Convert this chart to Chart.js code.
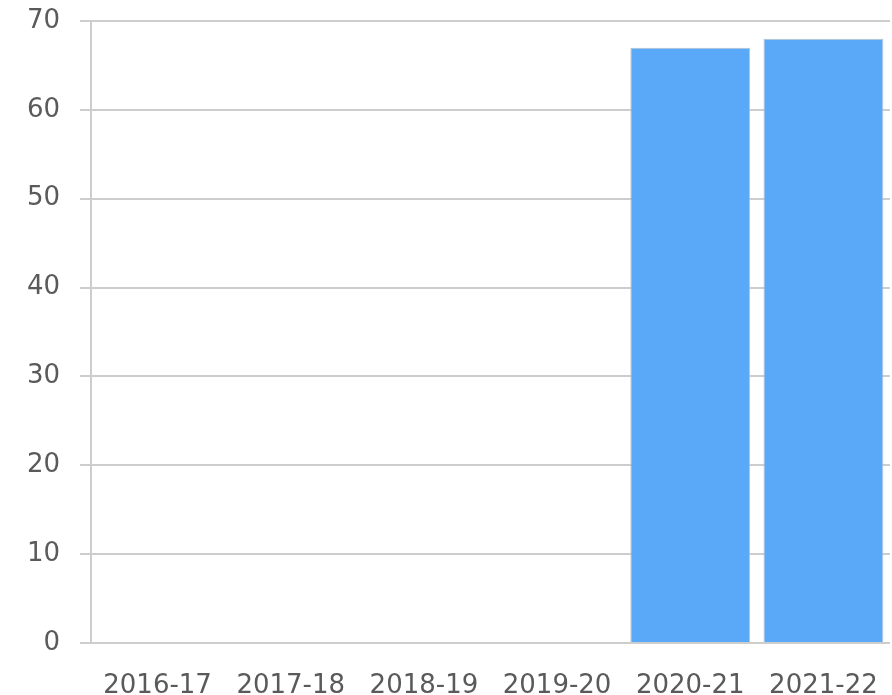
<!DOCTYPE html>
<html>
<head>
<meta charset="utf-8">
<script src="https://cdn.jsdelivr.net/npm/chart.js@4/dist/chart.umd.min.js"></script>
<style>
  html, body { margin: 0; padding: 0; background: #ffffff; }
  #wrap { width: 892px; height: 695px; }
  canvas { display: block; }
</style>
</head>
<body>
<div id="wrap"><canvas id="chart" width="892" height="695"></canvas></div>
<script>
// Academic years along the x axis
const years = ['2016-17', '2017-18', '2018-19', '2019-20', '2020-21', '2021-22'];
// Values per year (no data reported before 2020-21)
const values = [null, null, null, null, 67, 68];
// Y axis range and step
const yMin = 0;
const yMax = 70;
const yStep = 10;

const gridColor = '#cdcdcd';
const textColor = '#5a5a5a';
const fontFamily = '"DejaVu Sans", Verdana, sans-serif';

new Chart(document.getElementById('chart'), {
  type: 'bar',
  data: {
    labels: years,
    datasets: [{
      data: values,
      backgroundColor: '#59a9f8',
      borderColor: '#b9c3cc',
      borderWidth: 1,
      categoryPercentage: 0.9,
      barPercentage: 1.0
    }]
  },
  options: {
    responsive: false,
    animation: false,
    devicePixelRatio: 1,
    layout: { padding: { top: 21, right: 2, bottom: 0, left: 0 } },
    plugins: {
      legend: { display: false },
      tooltip: { enabled: false }
    },
    scales: {
      x: {
        grid: { display: true, drawOnChartArea: false, drawTicks: false, color: gridColor },
        border: { display: false },
        ticks: {
          color: textColor,
          padding: 28,
          maxRotation: 0,
          font: { family: fontFamily, size: 26 }
        },
        // fixed band height below the plot; no extra side padding for labels
        afterFit(scale) {
          scale.height = 52;
          scale.paddingLeft = 0;
          scale.paddingRight = 0;
        }
      },
      y: {
        min: yMin,
        max: yMax,
        grid: { color: gridColor, lineWidth: 2, tickLength: 11 },
        border: { display: true, color: gridColor, width: 2 },
        ticks: {
          stepSize: yStep,
          color: textColor,
          padding: 20,
          font: { family: fontFamily, size: 26 }
        },
        // fixed axis width; top/bottom spacing comes from the layout padding
        afterFit(scale) {
          scale.width = 91;
          scale.paddingTop = 0;
          scale.paddingBottom = 0;
        }
      }
    }
  }
});
</script>
</body>
</html>
